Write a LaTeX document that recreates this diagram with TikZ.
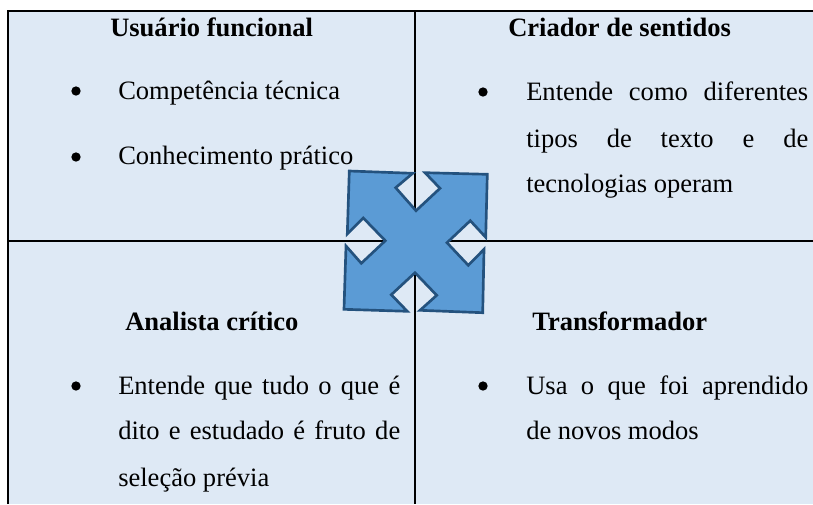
\documentclass[tikz,border=0pt]{standalone}
\usepackage{fontspec}
\setmainfont{Liberation Serif}
\definecolor{cellbg}{HTML}{DEE9F5}
\definecolor{arrowfill}{HTML}{5B9BD5}
\definecolor{arrowline}{HTML}{24527E}
\tikzset{
  x=0.75pt,y=-0.75pt,
  txt/.style={inner sep=0pt,anchor=base west,font=\fontsize{19.9pt}{24pt}\selectfont},
  head/.style={txt,font=\fontsize{19.9pt}{24pt}\selectfont\bfseries},
  dot/.style={circle,fill=black,inner sep=0pt,minimum size=7pt},
  rule/.style={draw=black,line width=1.5pt}
}
\begin{document}
\begin{tikzpicture}
\useasboundingbox (0,0) rectangle (813,504);
\fill[white] (0,0) rectangle (813,504);
\fill[cellbg] (8,11) rectangle (813,504);
\coordinate (tl) at (8,11);
\coordinate (tr) at (813,11);
\coordinate (bl) at (8,504);
\coordinate (ml) at (8,241);
\coordinate (mr) at (813,241);
\coordinate (tm) at (415,11);
\coordinate (bm) at (415,504);
\draw[rule] (bl) -- (tl) -- (tr);
\draw[rule] (ml) -- (mr);
\draw[rule] (tm) -- (bm);
\draw[draw=arrowline,fill=arrowfill,line width=2pt,line join=miter]
 (349.3,171) -- (412.7,173.3) -- (395.7,187.7) -- (416,210.7) -- (440,188.3) -- (425,172.7)
 -- (487.3,174.3) -- (485.7,237.3) -- (470.3,220.7) -- (447,242.7) -- (468.3,265.3) -- (484,249.3)
 -- (482.7,312.7) -- (420,310.3) -- (436.7,295.3) -- (415,272.7) -- (391.3,294.7) -- (407.3,311.3)
 -- (344,309.3) -- (346,246) -- (361.3,263.3) -- (385.3,240.7) -- (363.3,218) -- (347.3,234) -- cycle;
\node[head] (h1) at (110,36) {Usuário funcional};
\node[head] (h2) at (508,36) {Criador de sentidos};
\node[head] (h3) at (125,330) {Analista crítico};
\node[head] (h4) at (532,330) {Transformador};
\node[dot] (d1) at (76,91) {};
\node[dot] (d2) at (76,157) {};
\node[dot] (d3) at (483,92) {};
\node[dot] (d4) at (76,386) {};
\node[dot] (d5) at (483,386) {};
\node[txt] (t1) at (118,99) {Competência técnica};
\node[txt] (t2) at (118,164) {Conhecimento prático};
\node[txt] (t3) at (526,100) {\makebox[211.5pt][s]{Entende como diferentes}};
\node[txt] (t4) at (526,147) {\makebox[211.5pt][s]{tipos de texto e de}};
\node[txt] (t5) at (526,192) {tecnologias operam};
\node[txt] (t6) at (118,394) {\makebox[211.5pt][s]{Entende que tudo o que é}};
\node[txt] (t7) at (118,439) {\makebox[211.5pt][s]{dito e estudado é fruto de}};
\node[txt] (t8) at (118,486) {seleção prévia};
\node[txt] (t9) at (526,394) {\makebox[211.5pt][s]{Usa o que foi aprendido}};
\node[txt] (t10) at (526,439) {de novos modos};
\end{tikzpicture}
\end{document}
